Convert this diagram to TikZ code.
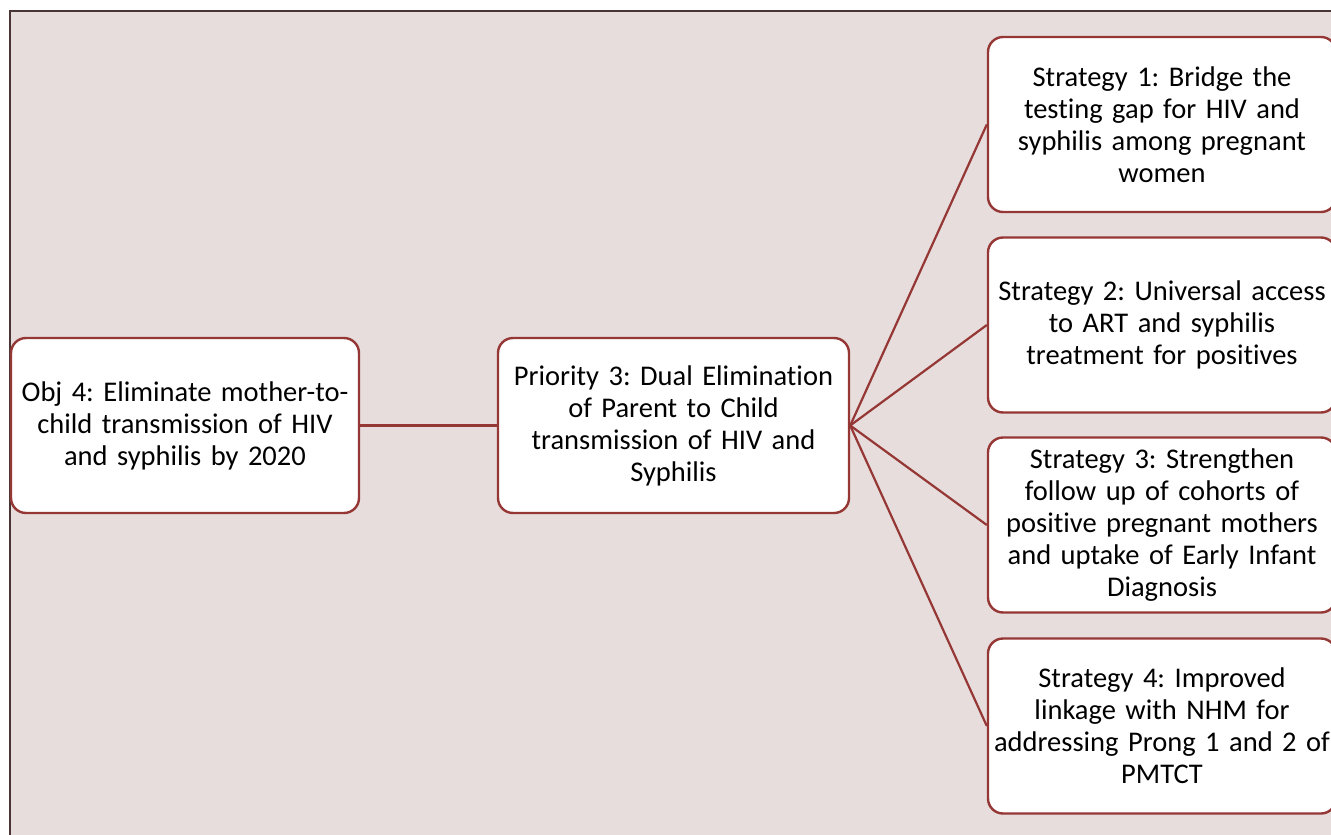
\documentclass[tikz,border=0pt]{standalone}
\usepackage{fontspec}
\setmainfont{Carlito}[Ligatures=NoCommon]
\definecolor{boxred}{HTML}{953735}
\definecolor{pagebg}{HTML}{E6DDDC}
\definecolor{framedark}{HTML}{4A3535}
\frenchspacing
\begin{document}
\begin{tikzpicture}[x=1pt,y=-1pt,
  box/.style={draw=boxred, line width=2.4pt, fill=white, rounded corners=15pt,
    minimum width=348pt, minimum height=175pt, align=center, text width=340pt,
    font=\fontsize{28.5}{32}\selectfont},
  link/.style={draw=boxred, line width=2.2pt}]
\clip (0,0) rectangle (1331,835);
%%% page background and frame
\fill[pagebg] (10,11) rectangle (1331,835);
\draw[framedark, line width=2.5pt] (10,835) -- (10,11) -- (1331,11);
%%% objective and priority
\node[box] (obj) at (185,425.5)
{Obj 4: Eliminate mother-to-\\child transmission of HIV\\and syphilis by 2020};
\node[box, minimum width=351pt] (prio) at (673.5,425.5)
{Priority 3: Dual Elimination\\of Parent to Child\\transmission of HIV and\\Syphilis};
%%% strategies
\node[box] (s1) at (1162,124.5)
{Strategy 1: Bridge the\\testing gap for HIV and\\syphilis among pregnant\\women};
\node[box] (s2) at (1162,325)
{Strategy 2: Universal access\\to ART and syphilis\\treatment for positives};
\node[box] (s3) at (1162,525)
{Strategy 3: Strengthen\\follow up of cohorts of\\positive pregnant mothers\\and uptake of Early Infant\\Diagnosis};
\node[box] (s4) at (1162,726)
{Strategy 4: Improved\\linkage with NHM for\\addressing Prong 1 and 2 of\\PMTCT};
%Links from objective to priority
\draw[link] (obj.east) -- (prio.west);
%Links from priority to strategies
\draw[link] (prio.east) -- (s1.west);
\draw[link] (prio.east) -- (s2.west);
\draw[link] (prio.east) -- (s3.west);
\draw[link] (prio.east) -- (s4.west);
\end{tikzpicture}
\end{document}
